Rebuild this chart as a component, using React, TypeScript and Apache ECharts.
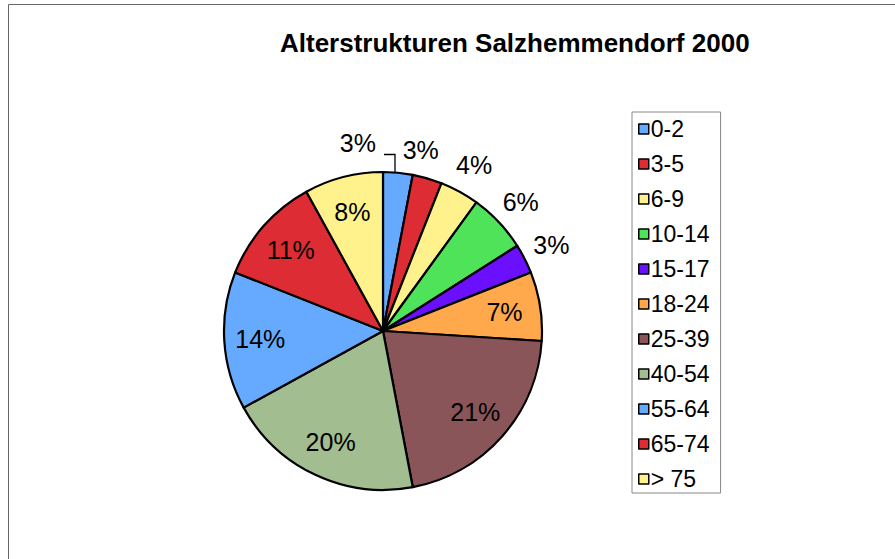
import React, { useEffect, useRef } from "react";
import * as echarts from "echarts";

const categories = ["0-2", "3-5", "6-9", "10-14", "15-17", "18-24", "25-39", "40-54", "55-64", "65-74", "> 75"];
const percentages = [3, 3, 4, 6, 3, 7, 21, 20, 14, 11, 8];
const sliceColors = ["#66AAFF", "#DD2C33", "#FFF28C", "#4FE35A", "#6A10FF", "#FFA84C", "#8A5558", "#A2BD8F", "#66AAFF", "#DD2C33", "#FFF28C"];
const outsideLabel = [true, true, true, true, true, false, false, false, false, false, false];
const outsideOffsets: [number, number][] = [[-43, 0], [-15, 0], [0, 0], [0, 0], [0, 0], [0, 0], [0, 0], [0, 0], [0, 0], [0, 0], [0, 0]];

const FONT = "'Liberation Sans', Arial, Helvetica, sans-serif";

export default function App() {
  const ref = useRef<HTMLDivElement>(null);
  useEffect(() => {
    if (!ref.current) return;
    const chart = echarts.init(ref.current, undefined, { renderer: "svg" });
    const center = [383, 331];
    const fmt = (p: any) => `${p.value}%`;
    chart.setOption({
      animation: false,
      backgroundColor: "#ffffff",
      title: {
        text: "Alterstrukturen Salzhemmendorf 2000",
        left: 280,
        top: 30,
        padding: 0,
        textStyle: { fontFamily: FONT, fontSize: 26, fontWeight: "bold", color: "#000" },
      },
      legend: {
        orient: "vertical",
        left: 632,
        top: 112,
        padding: [5, 11, 2, 6],
        itemWidth: 10,
        itemHeight: 10,
        itemGap: 11,
        icon: "rect",
        borderColor: "#888",
        borderWidth: 1,
        data: categories,
        selectedMode: false,
        itemStyle: { borderColor: "#000", borderWidth: 1.5 },
        textStyle: { fontFamily: FONT, fontSize: 23, lineHeight: 24, color: "#000", padding: [0, 0, 0, -3] },
      },
      graphic: [
        {
          type: "rect",
          shape: { x: 8.5, y: 4.5, width: 1000, height: 1000 },
          style: { fill: "none", stroke: "#666", lineWidth: 1 },
          silent: true,
        },
        {
          type: "polyline",
          shape: { points: [[395, 172], [395, 154.5], [384, 154.5]] },
          style: { stroke: "#000", lineWidth: 1.3, fill: "none" },
          silent: true,
          z: 10,
        },
      ],
      series: [
        {
          type: "pie",
          center,
          radius: 159,
          startAngle: 90,
          clockwise: true,
          label: { show: false },
          labelLine: { show: false },
          emphasis: { disabled: true },
          itemStyle: { borderColor: "#000", borderWidth: 2.2 },
          data: categories.map((c, i) => ({ name: c, value: percentages[i], itemStyle: { color: sliceColors[i] } })),
        },
        {
          type: "pie",
          center,
          radius: [80, 160],
          startAngle: 90,
          clockwise: true,
          silent: true,
          legendHoverLink: false,
          emphasis: { disabled: true },
          itemStyle: { color: "transparent", borderWidth: 0 },
          labelLine: { show: false },
          label: { show: true, position: "inside", formatter: fmt, fontFamily: FONT, fontSize: 25, color: "#000" },
          data: categories.map((c, i) => ({
            name: c,
            value: percentages[i],
            label: { show: !outsideLabel[i] },
          })),
        },
        {
          type: "pie",
          center,
          radius: [160, 212],
          startAngle: 90,
          clockwise: true,
          silent: true,
          legendHoverLink: false,
          emphasis: { disabled: true },
          itemStyle: { color: "transparent", borderWidth: 0 },
          labelLine: { show: false },
          label: { show: true, position: "inside", formatter: fmt, fontFamily: FONT, fontSize: 25, color: "#000" },
          data: categories.map((c, i) => ({
            name: c,
            value: percentages[i],
            label: { show: outsideLabel[i], offset: outsideOffsets[i] },
          })),
        },
      ],
    });
    return () => chart.dispose();
  }, []);
  return <div ref={ref} style={{ position: "fixed", left: 0, top: 0, width: 895, height: 559 }} />;
}
